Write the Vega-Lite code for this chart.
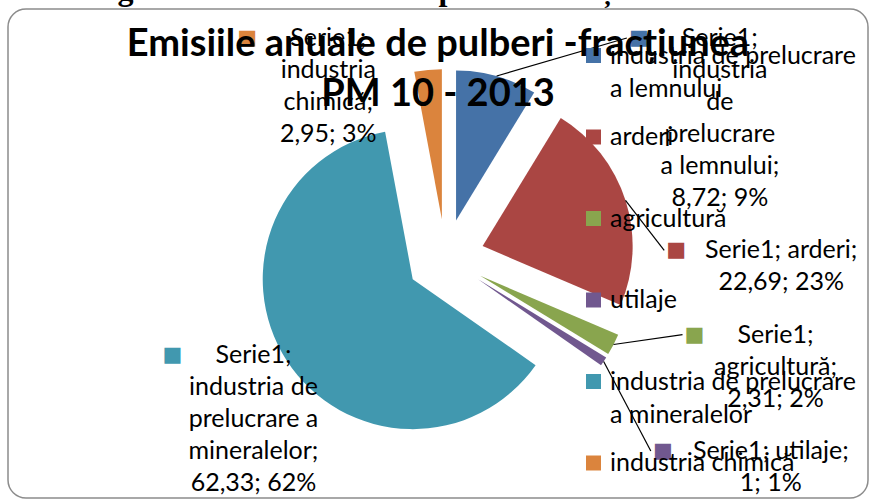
{
  "$schema": "https://vega.github.io/schema/vega-lite/v6.json",
  "width": 860,
  "height": 489,
  "autosize": {"type": "none"},
  "padding": {"left": 8, "top": 9, "right": 9, "bottom": 2},
  "background": "white",
  "title": {
    "text": "Figura 3.1.2.: Emisiile de pulberi fracțiunea PM10:",
    "subtitle": ["Emisiile anuale de pulberi -fracțiunea", "PM 10 - 2013"],
    "anchor": "middle",
    "offset": -106,
    "font": "Liberation Serif",
    "fontSize": 32,
    "fontWeight": "bold",
    "color": "black",
    "subtitleFont": "Lato",
    "subtitleFontSize": 38,
    "subtitleFontWeight": "bold",
    "subtitleColor": "black",
    "subtitleLineHeight": 50,
    "subtitlePadding": 19
  },
  "data": {
    "values": [
      {"categorie": "industria de prelucrare a lemnului", "valoare": 8.72, "eticheta": "Serie1;|industria|de|prelucrare|a lemnului;|8,72; 9%"},
      {"categorie": "arderi", "valoare": 22.69, "eticheta": "Serie1; arderi;|22,69; 23%"},
      {"categorie": "agricultură", "valoare": 2.31, "eticheta": "Serie1;|agricultură;|2,31; 2%"},
      {"categorie": "utilaje", "valoare": 1, "eticheta": "Serie1; utilaje;|1; 1%"},
      {"categorie": "industria de prelucrare a mineralelor", "valoare": 62.33, "eticheta": "Serie1;|industria de|prelucrare a|mineralelor;|62,33; 62%"},
      {"categorie": "industria chimică", "valoare": 2.95, "eticheta": "Serie1;|industria|chimică;|2,95; 3%"}
    ]
  },
  "transform": [
    {"window": [{"op": "row_number", "as": "ordine"}, {"op": "sum", "field": "valoare", "as": "cum"}], "frame": [null, 0]},
    {"joinaggregate": [{"op": "sum", "field": "valoare", "as": "total"}]},
    {"calculate": "2*PI*(datum.cum - datum.valoare/2)/datum.total", "as": "a"},
    {"calculate": "length(split(datum.eticheta, '|'))", "as": "n"},
    {"calculate": "split(datum.eticheta, '|')[0]", "as": "primul"},
    {"calculate": "39*sin(datum.a)", "as": "cx"},
    {"calculate": "39*cos(datum.a)", "as": "cy"},
    {"calculate": "189*sin(datum.a)", "as": "ex"},
    {"calculate": "189*cos(datum.a)", "as": "ey"},
    {"calculate": "sin(datum.a) >= 0 ? 1 : 0", "as": "dreapta"},
    {"calculate": "datum.dreapta == 1 ? datum.a : -datum.a", "as": "k"},
    {"calculate": "datum.n*32", "as": "h"},
    {"joinaggregate": [{"op": "sum", "field": "h", "as": "toth"}, {"op": "count", "as": "cnt"}], "groupby": ["dreapta"]},
    {"window": [{"op": "sum", "field": "h", "as": "cumh"}, {"op": "row_number", "as": "idx"}], "groupby": ["dreapta"], "sort": [{"field": "k", "order": "ascending"}], "frame": [null, 0]},
    {"calculate": "datum.cnt > 1 ? (445 - datum.toth + 32)/(datum.cnt - 1) : 0", "as": "gap"},
    {"calculate": "258 - (38 + datum.cumh - datum.h + (datum.idx - 1)*datum.gap)", "as": "ly"},
    {"calculate": "datum.dreapta == 1 ? 250 + 90*sin(datum.a) : -(108 + 100*abs(sin(datum.a)))", "as": "lx"},
    {"calculate": "datum.lx - length(datum.primul)*3 - 60", "as": "mx"},
    {"calculate": "datum.mx - 12", "as": "lineEnd"}
  ],
  "config": {
    "view": {"stroke": "#8c8c8c", "strokeWidth": 1.5, "cornerRadius": 18, "fill": "white"},
    "style": {"guide-label": {"lineHeight": 33}}
  },
  "layer": [
    {
      "mark": {"type": "arc", "radius": 150},
      "encoding": {
        "theta": {"field": "valoare", "type": "quantitative", "stack": true},
        "order": {"field": "ordine", "type": "quantitative"},
        "color": {
          "field": "categorie",
          "type": "nominal",
          "scale": {
            "domain": ["industria de prelucrare a lemnului", "arderi", "agricultură", "utilaje", "industria de prelucrare a mineralelor", "industria chimică"],
            "range": ["#4572A7", "#AA4643", "#89A54E", "#71588F", "#4198AF", "#DB843D"]
          },
          "legend": {
            "title": null,
            "orient": "none",
            "legendX": 573,
            "legendY": 34,
            "symbolType": "square",
            "symbolSize": 225,
            "symbolStrokeWidth": 0,
            "labelFont": "Lato",
            "labelFontSize": 25,
            "labelColor": "black",
            "labelLimit": 320,
            "labelOffset": 4,
            "rowPadding": 22.5,
            "gridAlign": "all",
            "labelExpr": "datum.label == 'industria de prelucrare a lemnului' ? ['industria de prelucrare', 'a lemnului'] : datum.label == 'industria de prelucrare a mineralelor' ? ['industria de prelucrare', 'a mineralelor'] : datum.label"
          }
        },
        "x": {"field": "cx", "type": "quantitative", "scale": {"domain": [-437.5, 422.5], "nice": false, "zero": false}, "axis": null},
        "y": {"field": "cy", "type": "quantitative", "scale": {"domain": [-240, 249], "nice": false, "zero": false}, "axis": null}
      }
    },
    {
      "transform": [{"filter": "datum.dreapta == 1"}],
      "mark": {"type": "rule", "color": "black", "strokeWidth": 1.2},
      "encoding": {
        "x": {"field": "ex", "type": "quantitative"},
        "y": {"field": "ey", "type": "quantitative"},
        "x2": {"field": "lineEnd"},
        "y2": {"field": "ly"}
      }
    },
    {
      "mark": {"type": "text", "lineBreak": "|", "lineHeight": 32, "font": "Lato", "fontSize": 25, "align": "center", "baseline": "middle", "color": "black"},
      "encoding": {
        "x": {"field": "lx", "type": "quantitative"},
        "y": {"field": "ly", "type": "quantitative"},
        "text": {"field": "eticheta", "type": "nominal"}
      }
    },
    {
      "mark": {"type": "text", "text": "■", "font": "DejaVu Sans", "fontSize": 21, "align": "center", "baseline": "middle"},
      "encoding": {
        "x": {"field": "mx", "type": "quantitative"},
        "y": {"field": "ly", "type": "quantitative"},
        "color": {"field": "categorie", "type": "nominal"}
      }
    }
  ]
}
